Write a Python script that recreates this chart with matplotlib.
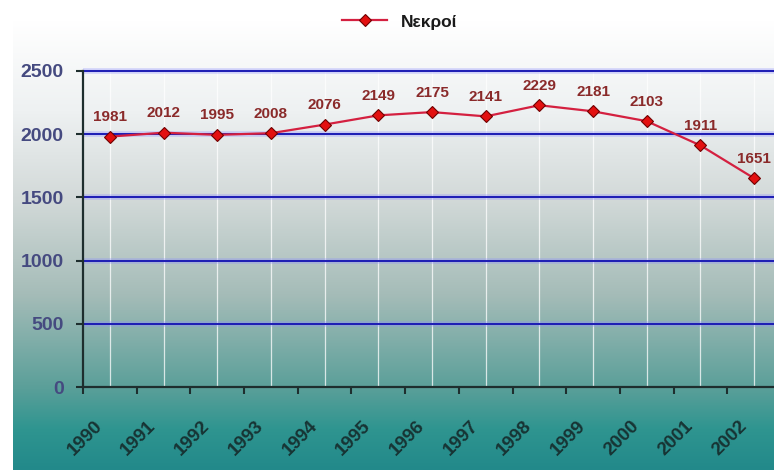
import numpy as np
import matplotlib.pyplot as plt
from matplotlib.colors import LinearSegmentedColormap
from matplotlib.transforms import ScaledTranslation

years = [str(y) for y in range(1990, 2003)]
deaths = [1981, 2012, 1995, 2008, 2076, 2149, 2175, 2141, 2229, 2181, 2103, 1911, 1651]
yticks = [0, 500, 1000, 1500, 2000, 2500]
series_name = 'Νεκροί'

W, H = 774, 470
plt.rcParams['font.family'] = ['Liberation Sans', 'DejaVu Sans']
fig = plt.figure(figsize=(W / 100, H / 100), dpi=100)

# background panel, light grey at the top, teal at the bottom
bg = fig.add_axes([13 / W, 0, 1 - 13 / W, 450 / H], zorder=0)
cmap = LinearSegmentedColormap.from_list('panel', [
    (0.0, '#22898a'), (0.09, '#2f9590'), (0.18, '#5a9f99'),
    (0.39, '#a5bcb8'), (0.6, '#d2d9d8'), (0.8, '#eef1f2'), (1.0, '#ffffff')])
bg.imshow(np.linspace(0, 1, 256).reshape(-1, 1), aspect='auto', cmap=cmap,
          origin='lower', extent=[0, 1, 0, 1])
bg.axis('off')

ax = fig.add_axes([83 / W, (H - 387) / H, 1 - 83 / W, 316 / H], zorder=1)
ax.set_facecolor('none')
x = np.arange(len(years))

# grid: white verticals at the points, blue horizontals with a soft halo
ax.vlines(x, 0, 2500, color='white', lw=0.9, alpha=0.75, zorder=1)
ax.hlines(yticks[1:], 0, 1, transform=ax.get_yaxis_transform(),
          color='#8c8cff', lw=4, alpha=0.35, zorder=1, clip_on=False)
ax.hlines(yticks[1:], 0, 1, transform=ax.get_yaxis_transform(),
          color='#1c1cb4', lw=1.4, zorder=1, clip_on=False)

ax.plot(x, deaths, color='#d42040', lw=1.6, marker='D', markersize=6.5,
        markerfacecolor='#e31010', markeredgecolor='#700000', markeredgewidth=0.8,
        label=series_name, zorder=3)
for xi, v in zip(x, deaths):
    ax.annotate(str(v), (xi, v), xytext=(0, 9), textcoords='offset points',
                ha='center', va='bottom', fontsize=11, fontweight='bold',
                color='#8a2a2a')

ax.set_xlim(-0.5, 12.37)
ax.set_ylim(0, 2500)

for side in ('top', 'right'):
    ax.spines[side].set_visible(False)
for side in ('left', 'bottom'):
    ax.spines[side].set_color('#1e2e2e')
    ax.spines[side].set_linewidth(1.6)

ax.set_yticks(yticks)
ax.set_yticklabels([str(t) for t in yticks], fontsize=14, fontweight='bold',
                   color='#454a80')
ax.tick_params(axis='y', length=5, width=1.5, color='#1e2e2e', pad=9)

ax.set_xticks(x)
ax.set_xticks(np.arange(-0.5, len(years) - 0.5, 1), minor=True)
ax.set_xticklabels(years, rotation=45, ha='right', va='center',
                   rotation_mode='anchor', fontsize=13.5, fontweight='bold',
                   color='#173434')
ax.tick_params(axis='x', which='major', length=0, pad=26)
ax.tick_params(axis='x', which='minor', length=5, width=1.5, color='#1e2e2e')
shift = ScaledTranslation(-10 / 100, 0, fig.dpi_scale_trans)
for lab in ax.get_xticklabels():
    lab.set_transform(lab.get_transform() + shift)

fig.legend(loc='center', bbox_to_anchor=(400 / W, 1 - 22 / H), frameon=False,
           handlelength=2.6, prop={'size': 12.5, 'weight': 'bold'},
           labelcolor='#1a1a1a')

fig.savefig('out.png', dpi=100)
